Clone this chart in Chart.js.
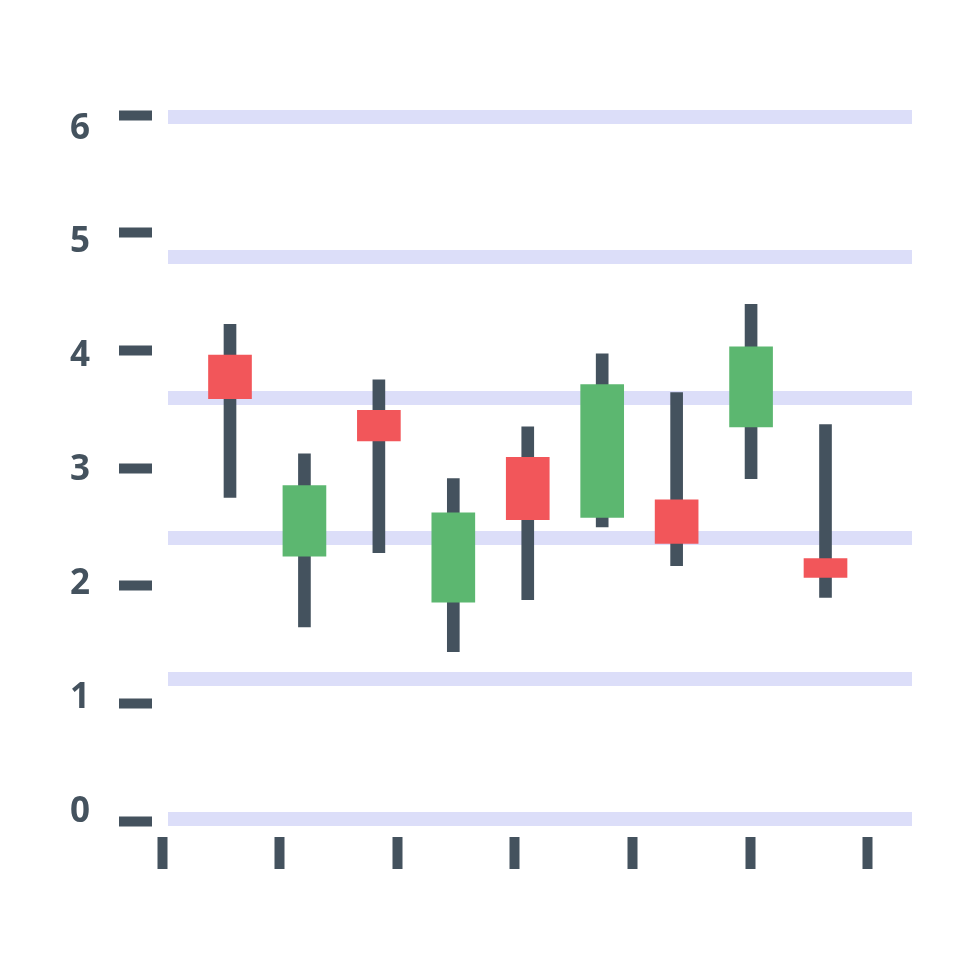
<!DOCTYPE html>
<html>
<head>
<meta charset="utf-8">
<script src="https://cdn.jsdelivr.net/npm/chart.js@4.4.1/dist/chart.umd.min.js"></script>
<style>
html,body{margin:0;padding:0;background:#fff}
</style>
</head>
<body>
<canvas id="myChart" width="980" height="980"></canvas>
<script>
// candles (posicao no eixo) e valores OHLC
const candles=[1,2,3,4,5,6,7,8,9]
const abertura=[3.96,2.25,3.49,1.86,3.09,2.58,2.73,3.35,2.23]
const fechamento=[3.59,2.85,3.23,2.62,2.56,3.71,2.36,4.03,2.07]
const maxima=[4.22,3.12,3.75,2.91,3.35,3.97,3.64,4.39,3.37]
const minima=[2.75,1.65,2.28,1.44,1.88,2.50,2.17,2.91,1.90]
const yTicks=[0,1,2,3,4,5,6]
const xTicks=[0,1,2,3,4,5,6]
const faixas=[0,1.2,2.4,3.6,4.8,6]

const escuro="#44525e"
const vermelho="#f2565a"
const verde="#5cb770"
const lavanda="#dcdef9"

const setTicks=(lista)=>(axis)=>{axis.ticks=lista.map(v=>({value:v}))}

const ctx=document.getElementById('myChart')
new Chart(ctx,{
  type:'bar',
  data:{
    datasets:[{
      label:'corpo',
      data:candles.map((c,i)=>({x:c,y:[abertura[i],fechamento[i]]})),
      backgroundColor:candles.map((c,i)=>fechamento[i]<abertura[i]?vermelho:verde),
      xAxisID:'xc',yAxisID:'y',
      grouped:false,order:1,
      barPercentage:1,categoryPercentage:1,maxBarThickness:43,
      borderWidth:0
    },{
      label:'pavio',
      data:candles.map((c,i)=>({x:c,y:[minima[i],maxima[i]]})),
      backgroundColor:escuro,
      xAxisID:'xc',yAxisID:'y',
      grouped:false,order:2,
      barPercentage:1,categoryPercentage:1,maxBarThickness:12,
      borderWidth:0
    }]
  },
  options:{
    responsive:false,
    animation:false,
    layout:{padding:{left:0,top:115,right:68,bottom:111}},
    plugins:{legend:{display:false},tooltip:{enabled:false}},
    scales:{
      xc:{
        type:'linear',axis:'x',position:'bottom',display:false,
        min:0.0865,max:10.162,offset:false,grid:{offset:false},
        afterBuildTicks:setTicks(candles)
      },
      xt:{
        type:'linear',axis:'x',position:'bottom',
        min:0,max:6.374,offset:false,
        afterBuildTicks:setTicks(xTicks),
        ticks:{display:false},
        border:{display:false},
        grid:{display:true,offset:false,drawOnChartArea:false,drawTicks:true,
          tickLength:48,tickWidth:10,tickColor:escuro,tickBorderDash:[0,16,32,100]},
        afterFit:(s)=>{s.height=48}
      },
      y:{
        type:'linear',axis:'y',position:'left',weight:1,
        min:0,max:6,
        afterBuildTicks:setTicks(yTicks),
        ticks:{display:false},
        border:{display:false},
        grid:{display:true,drawOnChartArea:false,drawTicks:true,
          tickLength:43,tickWidth:10,tickColor:escuro,tickBorderDash:[33,100]},
        afterFit:(s)=>{s.width=43}
      },
      yl:{
        type:'linear',axis:'y',position:'left',weight:2,
        min:-0.083,max:6.119,
        afterBuildTicks:setTicks(yTicks),
        border:{display:false},
        grid:{display:false,drawTicks:false},
        ticks:{padding:29,color:escuro,font:{family:'"Open Sans"',size:35,weight:'bold'}},
        afterFit:(s)=>{s.width=119}
      },
      yg:{
        type:'linear',axis:'y',position:'left',weight:0,
        min:-0.017,max:6.017,
        afterBuildTicks:setTicks(faixas),
        ticks:{display:false},
        border:{display:false,dash:[744,3000],dashOffset:-6},
        grid:{display:true,drawOnChartArea:true,drawTicks:false,color:lavanda,lineWidth:14},
        afterFit:(s)=>{s.width=0}
      }
    }
  }
})
</script>
</body>
</html>
